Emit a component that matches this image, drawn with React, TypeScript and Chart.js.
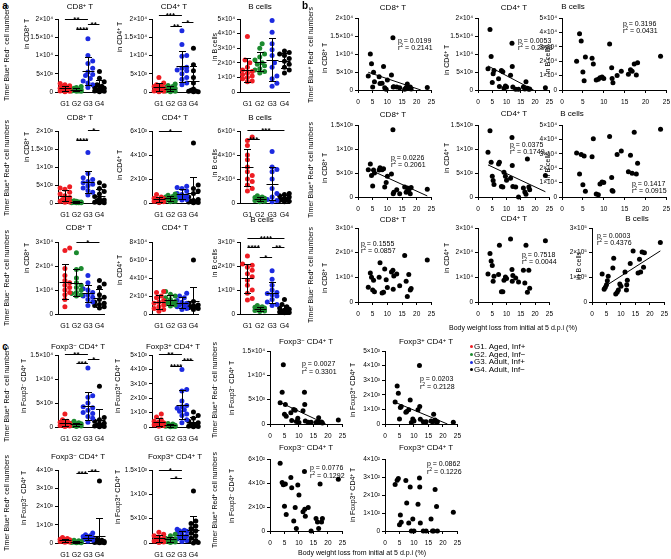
import React, { useEffect, useRef } from 'react';
import { Chart, registerables } from 'chart.js';

Chart.register(...registerables);

const FONT = "'Liberation Sans', Arial, Helvetica, sans-serif";

// ---------------- categories / legend ----------------
const groupLabels = ['G1', 'G2', 'G3', 'G4'];
const groupNames = ['G1. Aged, Inf+', 'G2. Aged, Inf−', 'G3. Adult, Inf+', 'G4. Adult, Inf−'];
const groupColors = ['#ee1d23', '#1b8a2e', '#1c2ae0', '#000000'];

// ---------------- panel a (values per group G1..G4) ----------------
const a1CD8 = [
  [2300, 2000, 1700, 1500, 1200, 1000, 900, 700, 600, 400, 300, 200, 100],
  [1500, 1200, 1000, 800, 700, 600, 500, 400, 300, 300, 200, 200],
  [14600, 10000, 8500, 7800, 6500, 5500, 4800, 4500, 3700, 3000, 2500, 2000, 1200],
  [5600, 3800, 2800, 2000, 1600, 1300, 1000, 800, 600, 400, 300, 200, 100],
];
const a1CD4 = [
  [4000, 2500, 2000, 1800, 1500, 1200, 1000, 800, 500, 300, 200, 100],
  [2200, 1800, 1500, 1200, 1000, 800, 600, 500, 300, 200, 100],
  [16800, 13000, 10000, 9800, 6800, 5800, 6500, 6000, 5000, 4000, 3500, 2500, 2000],
  [12000, 7500, 5800, 4000, 2500, 800, 500, 300, 200, 100, 50],
];
const a1B = [
  [38000, 22000, 20000, 17000, 15000, 14000, 13000, 12000, 11000, 10000, 9000, 7500, 7000],
  [33000, 30000, 26000, 24000, 22000, 20000, 19000, 18000, 16000, 15000, 14000, 13000],
  [49000, 41000, 33000, 29000, 25000, 20000, 17000, 11000, 9000, 6000, 4000],
  [28000, 27000, 26000, 25000, 23000, 21000, 19000, 17000, 15000, 13000],
];
const a2CD8 = [
  [450, 420, 380, 300, 250, 200, 150, 100, 80, 50, 30, 20],
  [60, 50, 40, 30, 30, 20, 20, 10, 10, 10, 5],
  [1400, 820, 700, 650, 600, 560, 520, 480, 420, 350, 300, 220],
  [560, 480, 400, 320, 250, 180, 120, 80, 60, 40, 20, 10, 5],
];
const a2CD4 = [
  [700, 500, 400, 350, 300, 250, 200, 150, 100, 50],
  [750, 650, 550, 500, 400, 350, 300, 250, 200, 150, 100],
  [1400, 1300, 1200, 1000, 800, 700, 600, 500, 450, 400, 300, 250],
  [5000, 1500, 1200, 1000, 800, 500, 300, 200, 150, 100, 80, 50, 30],
];
const a2B = [
  [55000, 52000, 48000, 40000, 36000, 30000, 26000, 23000, 20000, 18000, 15000, 12000, 10000],
  [6000, 5000, 4500, 4000, 3500, 3000, 2500, 2000, 1500, 1000],
  [43000, 30000, 28000, 26000, 20000, 12000, 8000, 5000, 3000, 2000, 1000],
  [8000, 7000, 6000, 5000, 4000, 3000, 3000, 2000, 1500, 1000],
];
const a3CD8 = [
  [27500, 26500, 19000, 16000, 14000, 13000, 12000, 11000, 10000, 9000, 8000, 6000, 3000],
  [25500, 19000, 18500, 15000, 13000, 12000, 11000, 10000, 9000, 8500, 8000, 7500],
  [16000, 13000, 10500, 10000, 9000, 8000, 7500, 7000, 6000, 5000, 3500],
  [14000, 12500, 11000, 8000, 7000, 6000, 5000, 4500, 4000, 3500, 3000, 2500],
];
const a3CD4 = [
  [25000, 24000, 20000, 18000, 15000, 13000, 12000, 10000, 8000, 6000, 5000, 3000],
  [25000, 22000, 20000, 18000, 16000, 14000, 13000, 12000, 11000, 10000, 9000],
  [23000, 20000, 18000, 15000, 13000, 12000, 10000, 9000, 8000, 6000, 5000],
  [60000, 14000, 12000, 10000, 9000, 8000, 8000, 7000, 6000, 5000],
];
const a3B = [
  [242000, 208000, 203000, 195000, 182000, 168000, 155000, 141000, 120000, 100000, 86000, 65000, 58000],
  [35000, 30000, 28000, 25000, 22000, 20000, 18000, 15000, 12000, 10000],
  [180000, 145000, 120000, 100000, 90000, 85000, 80000, 75000, 60000, 50000, 40000, 35000],
  [60000, 40000, 30000, 25000, 20000, 16000, 13000, 10000, 8000, 6000, 5000],
];
// ---------------- panel c dot plots ----------------
const c1Neg = [
  [2700, 1500, 1200, 1000, 800, 700, 500, 400, 300, 200, 100],
  [1200, 900, 800, 700, 600, 500, 400, 300, 200, 100],
  [12300, 6500, 6200, 5000, 4200, 4000, 3500, 3000, 2800, 2200, 1800, 1000],
  [8500, 2000, 1500, 1200, 800, 600, 400, 300, 200, 100, 50],
];
const c1Pos = [
  [900, 700, 500, 400, 350, 300, 250, 200, 150, 100, 50],
  [250, 200, 150, 120, 100, 80, 60, 50, 30, 20],
  [4000, 2600, 2500, 1800, 1500, 1400, 1300, 1200, 1100, 900, 800, 500, 300],
  [1050, 800, 600, 400, 300, 200, 150, 100, 60, 30, 10],
];
const c2Neg = [
  [300, 250, 200, 180, 150, 120, 100, 80, 60, 40],
  [150, 120, 100, 80, 60, 50, 40, 30, 20, 10],
  [550, 450, 400, 350, 300, 250, 220, 200, 180, 150, 100],
  [3400, 200, 150, 100, 80, 60, 50, 40, 30, 20, 10],
];
const c2Pos = [
  [220, 180, 150, 120, 100, 80, 60, 40, 20, 10],
  [180, 150, 100, 80, 60, 50, 40, 30, 20, 10],
  [280, 260, 250, 240, 200, 180, 150, 120, 100, 80, 50, 30],
  [1070, 450, 400, 350, 300, 250, 200, 150, 100, 50, 30, 10, 0],
];

// significance bars: [group from, group to, y value, label]
const sigA1CD8 = [[1, 3, 20100, '**'], [3, 4, 18700, '**'], [2, 3, 17200, '****']];
const sigA1CD4 = [[1, 3, 21000, '***'], [3, 4, 19100, '*'], [2, 3, 18000, '**']];
const sigA2CD8 = [[3, 4, 2020, '*'], [2, 3, 1740, '****']];
const sigA2CD4 = [[1, 3, 6000, '*']];
const sigA2B = [[1, 4, 61000, '***'], [1, 2, 53000, '***']];
const sigA3CD8 = [[2, 4, 30000, '*']];
const sigA3B = [[1, 4, 315000, '****'], [1, 2, 280000, '****'], [3, 4, 280000, '**'], [2, 3, 238000, '*']];
const sigC1Neg = [[1, 3, 15300, '**'], [3, 4, 14100, '*'], [2, 3, 13300, '***']];
const sigC1Pos = [[1, 3, 5100, '**'], [3, 4, 4680, '***'], [2, 3, 4270, '****']];
const sigC2Neg = [[3, 4, 3960, '**'], [2, 3, 3830, '***']];
const sigC2Pos = [[1, 3, 1500, '*'], [2, 3, 1330, '*']];

// ---------------- panels b / c scatter ----------------
const weightLoss = [3.5, 4.2, 4.6, 5.0, 5.3, 5.6, 7.2, 7.5, 8.2, 8.7, 9.1, 9.6, 10.0, 11.4, 11.9, 12.0, 12.2, 13.2, 14.2, 15.9, 16.4, 16.8, 17.3, 17.8, 18.1, 23.6];
const b1CD8 = [3900, 10000, 7300, 800, 4900, 2300, 3700, 1800, 1900, 6500, 600, 200, 2800, 4200, 14500, 800, 900, 800, 600, 200, 700, 1700, 500, 800, 300, 700];
const b1CD4 = [5900, 16800, 9300, 2100, 4500, 5400, 3100, 1000, 5400, 5100, 500, 1100, 800, 4100, 13000, 6500, 800, 200, 200, 800, 300, 2300, 500, 200, 300, 600];
const b1B = [20000, 39000, 34000, 12500, 6500, 23000, 22000, 18000, 7000, 7500, 8500, 9000, 8000, 32000, 15500, 8000, 5000, 10000, 13000, 11000, 14000, 13000, 18000, 10500, 19000, 23500];
const b2CD8 = [570, 690, 450, 230, 565, 500, 565, 607, 570, 590, 210, 300, 430, 480, 1400, 70, 100, 150, 70, 210, 100, 190, 140, 70, 200, 160];
const b2CD4 = [930, 1380, 724, 434, 345, 262, 690, 724, 220, 207, 517, 434, 350, 393, 1240, 655, 220, 207, 0, 186, 103, 55, 793, 207, 150, 448];
const b2B = [30500, 16000, 29500, 8500, 28500, 4000, 28000, 40500, 2000, 1500, 9000, 10500, 10000, 42000, 13500, 4500, 4000, 29500, 32000, 17500, 29000, 16500, 45000, 16000, 23500, 47000];
const b3CD8 = [6000, 11800, 10000, 4900, 8800, 4200, 10000, 15900, 3600, 4000, 13400, 9000, 5900, 12200, 12900, 5200, 10500, 11400, 6600, 18900, 8400, 2200, 11100, 4900, 5500, 17000];
const b3CD4 = [11400, 19700, 16600, 14800, 8400, 10400, 11100, 23000, 4200, 4200, 8800, 10100, 9500, 25500, 13200, 8400, 10700, 9700, 8100, 12900, 7700, 23000, 4000, 12900, 5600, 24800];
const b3B = [114000, 52000, 60000, 70000, 86000, 104000, 138000, 177000, 32000, 40000, 49000, 73000, 64000, 122000, 49000, 70000, 88000, 156000, 207000, 118000, 173000, 122000, 203000, 141000, 200000, 241000];
const cS1 = [4350, 6500, 12200, 2000, 4000, 1600, 2300, 700, 3000, 2800, 500, 1200, 300, 2700, 6500, 4000, 600, 350, 350, 300, 350, 1300, 350, 400, 200, 800];
const cS2 = [1500, 2600, 2100, 350, 1130, 1200, 800, 850, 970, 1650, 100, 350, 200, 970, 4000, 1200, 320, 160, 160, 200, 160, 670, 280, 100, 150, 120];
const cS3 = [565, 405, 385, 207, 392, 137, 445, 360, 84, 196, 20, 384, 300, 160, 496, 182, 123, 196, 0, 104, 76, 20, 392, 76, 104, 431];
const cS4 = [258, 282, 291, 35, 89, 49, 280, 155, 45, 244, 0, 67, 0, 149, 295, 245, 44, 0, 0, 67, 0, 0, 231, 136, 0, 104];

// stats text [p, r²]
const statsB = [['0.0199', '0.2141'], ['0.0053', '0.2923'], ['0.3196', '0.0431'],
  ['0.0226', '0.2061'], ['0.0375', '0.1749'], ['0.1417', '0.0915'],
  ['0.1555', '0.0857'], ['0.7518', '0.0044'], ['0.0003', '0.4376']];
const statsC = [['0.0027', '0.3301'], ['0.0203', '0.2128'], ['0.0776', '0.1292'], ['0.0862', '0.1226']];

// ---------------- layout ----------------
const PL = 45, PR = 8, PT = 16, PB = 18;
const XMIN = 0.4, XMAX = 4.45;

type DotSpec = { kind: 'dot'; data: number[][]; left: number; top: number; w: number; h: number; yMax: number; yStep: number; sig: any[] };
type ScatSpec = { kind: 'scat'; ys: number[]; left: number; top: number; w: number; h: number; yMax: number; yStep: number; fit: boolean };

const dotPanels: DotSpec[] = [
  { kind: 'dot', data: a1CD8, left: 58, top: 19, w: 47, h: 73, yMax: 20000, yStep: 5000, sig: sigA1CD8 },
  { kind: 'dot', data: a1CD4, left: 152, top: 19, w: 47, h: 73, yMax: 20000, yStep: 5000, sig: sigA1CD4 },
  { kind: 'dot', data: a1B, left: 240, top: 19, w: 50, h: 73, yMax: 50000, yStep: 10000, sig: [] },
  { kind: 'dot', data: a2CD8, left: 58, top: 131, w: 47, h: 72, yMax: 2000, yStep: 500, sig: sigA2CD8 },
  { kind: 'dot', data: a2CD4, left: 152, top: 131, w: 47, h: 72, yMax: 6000, yStep: 2000, sig: sigA2CD4 },
  { kind: 'dot', data: a2B, left: 240, top: 131, w: 50, h: 72, yMax: 60000, yStep: 20000, sig: sigA2B },
  { kind: 'dot', data: a3CD8, left: 58, top: 242, w: 47, h: 72, yMax: 30000, yStep: 10000, sig: sigA3CD8 },
  { kind: 'dot', data: a3CD4, left: 152, top: 242, w: 47, h: 72, yMax: 80000, yStep: 20000, sig: [] },
  { kind: 'dot', data: a3B, left: 240, top: 242, w: 50, h: 72, yMax: 300000, yStep: 100000, sig: sigA3B },
  { kind: 'dot', data: c1Neg, left: 58, top: 355, w: 47, h: 72, yMax: 15000, yStep: 5000, sig: sigC1Neg },
  { kind: 'dot', data: c1Pos, left: 152, top: 355, w: 47, h: 72, yMax: 5000, yStep: 1000, sig: sigC1Pos },
  { kind: 'dot', data: c2Neg, left: 58, top: 470, w: 47, h: 73, yMax: 4000, yStep: 1000, sig: sigC2Neg },
  { kind: 'dot', data: c2Pos, left: 152, top: 470, w: 47, h: 73, yMax: 1500, yStep: 500, sig: sigC2Pos },
];

const scatPanels: ScatSpec[] = [
  { kind: 'scat', ys: b1CD8, left: 358, top: 18, w: 74, h: 72, yMax: 20000, yStep: 5000, fit: true },
  { kind: 'scat', ys: b1CD4, left: 478, top: 18, w: 72, h: 72, yMax: 20000, yStep: 5000, fit: true },
  { kind: 'scat', ys: b1B, left: 562, top: 18, w: 105, h: 72, yMax: 50000, yStep: 10000, fit: false },
  { kind: 'scat', ys: b2CD8, left: 358, top: 125, w: 74, h: 72, yMax: 1500, yStep: 500, fit: true },
  { kind: 'scat', ys: b2CD4, left: 478, top: 125, w: 72, h: 72, yMax: 1500, yStep: 500, fit: true },
  { kind: 'scat', ys: b2B, left: 562, top: 125, w: 105, h: 72, yMax: 50000, yStep: 10000, fit: false },
  { kind: 'scat', ys: b3CD8, left: 358, top: 228, w: 74, h: 74, yMax: 30000, yStep: 10000, fit: false },
  { kind: 'scat', ys: b3CD4, left: 478, top: 228, w: 72, h: 74, yMax: 30000, yStep: 10000, fit: false },
  { kind: 'scat', ys: b3B, left: 592, top: 228, w: 73, h: 74, yMax: 300000, yStep: 100000, fit: true },
  { kind: 'scat', ys: cS1, left: 270, top: 351, w: 73, h: 73, yMax: 15000, yStep: 5000, fit: true },
  { kind: 'scat', ys: cS2, left: 385, top: 351, w: 73, h: 73, yMax: 5000, yStep: 1000, fit: true },
  { kind: 'scat', ys: cS3, left: 270, top: 459, w: 73, h: 72, yMax: 600, yStep: 200, fit: false },
  { kind: 'scat', ys: cS4, left: 385, top: 459, w: 73, h: 72, yMax: 400, yStep: 100, fit: false },
];

// ---------------- helpers ----------------
const SUPS = '⁰¹²³⁴⁵⁶⁷⁸⁹';
function sci(v: number): string {
  if (Math.abs(v) < 1e-9) return '0';
  const e = Math.floor(Math.log10(v) + 1e-9);
  const m = Math.round((v / Math.pow(10, e)) * 10) / 10;
  return `${m}×10${String(e).split('').map((d) => SUPS[+d]).join('')}`;
}

function swarmOffsets(vals: number[], yMax: number, plotH: number): number[] {
  const diam = 4.6, step = 2.4, maxOff = 6.5;
  const order = vals.map((_, i) => i).sort((a, b) => vals[a] - vals[b]);
  const cands = [0];
  for (let k = 1; k * step <= maxOff; k++) cands.push(k * step, -k * step);
  const placed: { x: number; y: number }[] = [];
  const out = new Array(vals.length).fill(0);
  for (const i of order) {
    const py = (vals[i] / yMax) * plotH;
    let best = 0, bestD = -1;
    for (const c of cands) {
      let md = Infinity;
      for (const p of placed) md = Math.min(md, Math.hypot(p.x - c, p.y - py));
      if (md >= diam) { best = c; bestD = md; break; }
      if (md > bestD) { bestD = md; best = c; }
    }
    placed.push({ x: best, y: py });
    out[i] = best;
  }
  return out;
}

function yScale(yMax: number, yStep: number) {
  return {
    type: 'linear', min: 0, max: yMax,
    ticks: { stepSize: yStep, callback: (v: any) => sci(Number(v)), font: { family: FONT, size: 6.5 }, color: '#000', padding: 2, autoSkip: false },
    grid: { display: true, drawOnChartArea: false, drawTicks: true, tickLength: 3, color: '#000', lineWidth: 1 },
    border: { display: true, color: '#000', width: 1 },
    afterFit: (s: any) => { s.width = PL; },
  };
}

function baseOptions(x: any, y: any) {
  return {
    animation: false, responsive: false, maintainAspectRatio: false, devicePixelRatio: 1, events: [],
    layout: { padding: { left: 0, top: PT, right: PR, bottom: 0 } },
    plugins: { legend: { display: false }, tooltip: { enabled: false }, title: { display: false } },
    scales: { x, y },
  };
}

const px = (v: number) => Math.round(v) + 0.5;

function meanSdPlugin(groups: number[][]) {
  return {
    id: 'meanSd',
    afterDatasetsDraw(chart: any) {
      const { ctx, scales, chartArea } = chart;
      ctx.save();
      ctx.strokeStyle = '#000';
      ctx.lineWidth = 1;
      groups.forEach((vals, gi) => {
        const n = vals.length;
        const m = vals.reduce((a, b) => a + b, 0) / n;
        const sd = Math.sqrt(vals.reduce((a, b) => a + (b - m) * (b - m), 0) / (n - 1));
        const cx = scales.x.getPixelForValue(gi + 1);
        const pm = px(scales.y.getPixelForValue(m));
        const pt = px(scales.y.getPixelForValue(m + sd));
        const lowClipped = m - sd <= 0;
        const pb = lowClipped ? chartArea.bottom : px(scales.y.getPixelForValue(m - sd));
        const c = px(cx);
        ctx.beginPath();
        ctx.moveTo(c - 6, pm); ctx.lineTo(c + 6, pm);
        ctx.moveTo(c, pt); ctx.lineTo(c, pb);
        ctx.moveTo(c - 3.5, pt); ctx.lineTo(c + 3.5, pt);
        if (!lowClipped) { ctx.moveTo(c - 3.5, pb); ctx.lineTo(c + 3.5, pb); }
        ctx.stroke();
      });
      ctx.restore();
    },
  };
}

function sigPlugin(bars: any[]) {
  return {
    id: 'sig',
    afterDraw(chart: any) {
      const { ctx, scales } = chart;
      ctx.save();
      ctx.strokeStyle = '#000';
      ctx.fillStyle = '#000';
      ctx.lineWidth = 1;
      ctx.font = `bold 8px ${FONT}`;
      ctx.textAlign = 'center';
      ctx.textBaseline = 'alphabetic';
      bars.forEach(([g1, g2, val, label]) => {
        const x1 = scales.x.getPixelForValue(g1);
        const x2 = scales.x.getPixelForValue(g2);
        const y = px(scales.y.getPixelForValue(val));
        ctx.beginPath();
        ctx.moveTo(x1, y); ctx.lineTo(x2, y);
        ctx.stroke();
        ctx.fillText(label, (x1 + x2) / 2, y + 2.6);
      });
      ctx.restore();
    },
  };
}

function dotConfig(spec: DotSpec): any {
  const pxu = spec.w / (XMAX - XMIN);
  const datasets = spec.data.map((vals, gi) => {
    const offs = swarmOffsets(vals, spec.yMax, spec.h);
    return {
      data: vals.map((v, i) => ({ x: gi + 1 + offs[i] / pxu, y: v })),
      backgroundColor: groupColors[gi], borderWidth: 0, pointRadius: 2.5, pointHoverRadius: 0, clip: false,
    };
  });
  const x = {
    type: 'linear', min: XMIN, max: XMAX,
    afterBuildTicks: (s: any) => { s.ticks = [1, 2, 3, 4].map((v) => ({ value: v })); },
    ticks: { callback: (v: any) => groupLabels[Math.round(Number(v)) - 1], font: { family: FONT, size: 7 }, color: '#000', padding: 8, maxRotation: 0, autoSkip: false },
    grid: { display: false, drawTicks: false },
    border: { display: true, color: '#000', width: 1 },
    afterFit: (s: any) => { s.height = PB; },
  };
  return {
    type: 'scatter',
    data: { datasets },
    options: baseOptions(x, yScale(spec.yMax, spec.yStep)),
    plugins: [meanSdPlugin(spec.data), sigPlugin(spec.sig)],
  };
}

function scatConfig(spec: ScatSpec): any {
  const pts = weightLoss.map((xv, i) => ({ x: xv, y: spec.ys[i] }));
  const datasets: any[] = [{ type: 'scatter', data: pts, backgroundColor: '#000', borderWidth: 0, pointRadius: 2.5, pointHoverRadius: 0, clip: false }];
  if (spec.fit) {
    const n = pts.length;
    const mx = pts.reduce((a, p) => a + p.x, 0) / n;
    const my = pts.reduce((a, p) => a + p.y, 0) / n;
    const sxy = pts.reduce((a, p) => a + (p.x - mx) * (p.y - my), 0);
    const sxx = pts.reduce((a, p) => a + (p.x - mx) * (p.x - mx), 0);
    const slope = sxy / sxx, icpt = my - slope * mx;
    let x1 = Math.min(...weightLoss), x2 = Math.max(...weightLoss);
    if (slope < 0 && icpt + slope * x2 < 0) x2 = -icpt / slope;
    datasets.push({ type: 'line', data: [{ x: x1, y: icpt + slope * x1 }, { x: x2, y: icpt + slope * x2 }], borderColor: '#000', borderWidth: 1, pointRadius: 0, fill: false });
  }
  const x = {
    type: 'linear', min: 0, max: 25,
    ticks: { stepSize: 5, font: { family: FONT, size: 6.5 }, color: '#000', padding: 5, maxRotation: 0, autoSkip: false },
    grid: { display: true, drawOnChartArea: false, drawTicks: true, tickLength: 3, color: '#000', lineWidth: 1 },
    border: { display: true, color: '#000', width: 1 },
    afterFit: (s: any) => { s.height = PB; },
  };
  return { type: 'scatter', data: { datasets }, options: baseOptions(x, yScale(spec.yMax, spec.yStep)) };
}

function ChartBox({ spec }: { spec: DotSpec | ScatSpec }) {
  const ref = useRef<HTMLCanvasElement>(null);
  const W = PL + spec.w + PR, H = PT + spec.h + PB;
  useEffect(() => {
    const cfg = spec.kind === 'dot' ? dotConfig(spec as DotSpec) : scatConfig(spec as ScatSpec);
    const chart = new Chart(ref.current as HTMLCanvasElement, cfg);
    return () => chart.destroy();
  }, []);
  return <canvas ref={ref} width={W} height={H} style={{ position: 'absolute', left: spec.left - PL, top: spec.top - PT, width: W, height: H }} />;
}

// ---------------- text ----------------
function rich(s: string) {
  const parts = s.split(/\^(.)/);
  return parts.map((p, i) => i % 2 === 1
    ? <span key={i} style={{ fontSize: '0.72em', position: 'relative', top: '-0.42em' }}>{p}</span>
    : <React.Fragment key={i}>{p}</React.Fragment>);
}

type L = [string, number, number, number?, string?];
// [text, x, y, size, flags: r=rotated, b=bold, l=left-anchored]
const labels: L[] = [
  ['a', 5, 6, 10, 'b'], ['b', 305, 6, 10, 'b'], ['c', 5, 347, 10, 'b'],
  // titles
  ['CD8^+ T', 80, 7, 8], ['CD4^+ T', 174, 7, 8], ['B cells', 260, 7, 8],
  ['CD8^+ T', 80, 118, 8], ['CD4^+ T', 175, 118, 8], ['B cells', 260, 118, 8],
  ['CD8^+ T', 79, 228, 8], ['CD4^+ T', 175, 228, 8], ['B cells', 262, 220, 8],
  ['Foxp3^− CD4^+ T', 78, 347, 8], ['Foxp3^+ CD4^+ T', 173, 347, 8],
  ['Foxp3^− CD4^+ T', 78, 457, 8], ['Foxp3^+ CD4^+ T', 175, 457, 8],
  ['CD8^+ T', 393, 8, 8], ['CD4^+ T', 514, 8, 8], ['B cells', 573, 7, 8],
  ['CD8^+ T', 393, 115, 8], ['CD4^+ T', 514, 114, 8], ['B cells', 572, 114, 8],
  ['CD8^+ T', 393, 220, 8], ['CD4^+ T', 514, 219, 8], ['B cells', 637, 219, 8],
  ['Foxp3^− CD4^+ T', 306, 342, 8], ['Foxp3^+ CD4^+ T', 426, 342, 8],
  ['Foxp3^− CD4^+ T', 306, 448, 8], ['Foxp3^+ CD4^+ T', 426, 448, 8],
  // big y labels
  ['Timer Blue^+ Red^− cell numbers', 7, 53, 7, 'r'],
  ['Timer Blue^+ Red^+ cell numbers', 7, 168, 7, 'r'],
  ['Timer Blue^− Red^+ cell numbers', 7, 278, 7, 'r'],
  ['Timer Blue^+ Red^− cell numbers', 7, 394, 7, 'r'],
  ['Timer Blue^+ Red^+ cell numbers', 7, 503, 7, 'r'],
  ['Timer Blue^+ Red^− cell numbers', 311, 55, 7, 'r'],
  ['Timer Blue^+ Red^+ cell numbers', 311, 170, 7, 'r'],
  ['Timer Blue^− Red^+ cell numbers', 311, 275, 7, 'r'],
  ['Timer Blue^+ Red^− cell numbers', 215, 390, 7, 'r'],
  ['Timer Blue^+ Red^+ cell numbers', 215, 500, 7, 'r'],
  // sub y labels
  ['in CD8^+ T', 27, 34, 7, 'r'], ['in CD4^+ T', 120, 37, 7, 'r'], ['in B cells', 214, 47, 7, 'r'],
  ['in CD8^+ T', 27, 147, 7, 'r'], ['in CD4^+ T', 120, 165, 7, 'r'], ['in B cells', 214, 163, 7, 'r'],
  ['in CD8^+ T', 27, 258, 7, 'r'], ['in CD4^+ T', 120, 270, 7, 'r'], ['in B cells', 214, 263, 7, 'r'],
  ['in Foxp3^− CD4^+ T', 24, 386, 7, 'r'], ['in Foxp3^+ CD4^+ T', 118, 386, 7, 'r'],
  ['in Foxp3^− CD4^+ T', 24, 498, 7, 'r'], ['in Foxp3^+ CD4^+ T', 118, 497, 7, 'r'],
  ['in CD8^+ T', 325, 58, 7, 'r'], ['in CD4^+ T', 447, 60, 7, 'r'], ['in B cells', 547, 60, 7, 'r'],
  ['in CD8^+ T', 325, 168, 7, 'r'], ['in CD4^+ T', 447, 158, 7, 'r'], ['in B cells', 547, 166, 7, 'r'],
  ['in CD8^+ T', 325, 278, 7, 'r'], ['in CD4^+ T', 447, 258, 7, 'r'], ['in B cells', 578, 266, 7, 'r'],
  ['in Foxp3^− CD4^+ T', 232, 388, 7, 'r'], ['in Foxp3^+ CD4^+ T', 353, 390, 7, 'r'],
  ['in Foxp3^− CD4^+ T', 232, 496, 7, 'r'], ['in Foxp3^+ CD4^+ T', 353, 495, 7, 'r'],
  ['Body weight loss from initial at 5 d.p.i (%)', 513, 327, 7],
  ['Body weight loss from initial at 5 d.p.i (%)', 362, 552, 7],
];

const statPosB: [number, number][] = [[398, 40], [518, 40], [623, 23], [391, 157], [510, 144], [632, 183], [361, 243], [522, 254], [597, 235]];
const statPosC: [number, number][] = [[302, 363], [420, 378], [310, 467], [427, 463]];

function Label({ l }: { l: L }) {
  const [t, x, y, size = 7, flags = ''] = l;
  const rot = flags.includes('r');
  const left = flags.includes('l');
  return (
    <div style={{
      position: 'absolute', left: x, top: y, fontSize: size, lineHeight: 1, whiteSpace: 'nowrap',
      fontWeight: flags.includes('b') ? 700 : 400, fontFamily: FONT, color: '#000',
      transform: `translate(${left ? '0' : '-50%'}, -50%)${rot ? ' rotate(-90deg)' : ''}`,
    }}>{rich(t)}</div>
  );
}

export default function App() {
  const statLabels: L[] = [];
  statsB.forEach(([p, r], i) => {
    statLabels.push([`p = ${p}`, statPosB[i][0], statPosB[i][1], 7, 'l']);
    statLabels.push([`r^2 = ${r}`, statPosB[i][0], statPosB[i][1] + 7.5, 7, 'l']);
  });
  statsC.forEach(([p, r], i) => {
    statLabels.push([`p = ${p}`, statPosC[i][0], statPosC[i][1], 7, 'l']);
    statLabels.push([`r^2 = ${r}`, statPosC[i][0], statPosC[i][1] + 8.5, 7, 'l']);
  });
  return (
    <div style={{ position: 'absolute', left: 0, top: 0, width: 671, height: 559, background: '#fff', overflow: 'hidden', fontFamily: FONT }}>
      {dotPanels.map((s, i) => <ChartBox key={'d' + i} spec={s} />)}
      {scatPanels.map((s, i) => <ChartBox key={'s' + i} spec={s} />)}
      {labels.map((l, i) => <Label key={'l' + i} l={l} />)}
      {statLabels.map((l, i) => <Label key={'t' + i} l={l} />)}
      {groupNames.map((g, i) => (
        <div key={'g' + i} style={{ position: 'absolute', left: 470, top: 347 + i * 7.6, transform: 'translateY(-50%)', fontSize: 8, lineHeight: 1, whiteSpace: 'nowrap', fontFamily: FONT }}>
          <span style={{ display: 'inline-block', width: 3, height: 3, borderRadius: '50%', background: groupColors[i], marginRight: 1, verticalAlign: 'middle' }} />
          {g}
        </div>
      ))}
    </div>
  );
}
